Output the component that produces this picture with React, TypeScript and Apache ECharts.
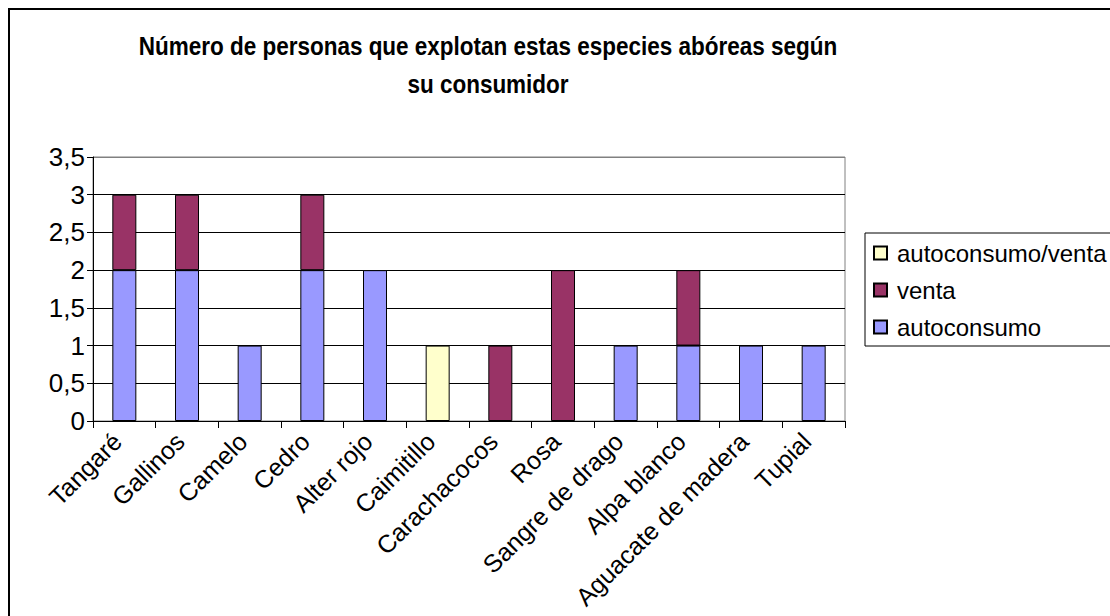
import React, { useEffect, useRef } from 'react';
import * as echarts from 'echarts';

const titleLines = ['Número de personas que explotan estas especies abóreas según', 'su consumidor'];
const categories = ['Tangaré', 'Gallinos', 'Camelo', 'Cedro', 'Alter rojo', 'Caimitillo', 'Carachacocos', 'Rosa', 'Sangre de drago', 'Alpa blanco', 'Aguacate de madera', 'Tupial'];
const autoconsumo = [2, 2, 1, 2, 2, null, null, null, 1, 1, 1, 1];
const venta = [1, 1, null, 1, null, null, 1, 2, null, 1, null, null];
const autoconsumoVenta = [null, null, null, null, null, 1, null, null, null, null, null, null];
const legendOrder = ['autoconsumo/venta', 'venta', 'autoconsumo'];
const yMin = 0;
const yMax = 3.5;
const yStep = 0.5;

const FONT = '"Liberation Sans", Arial, sans-serif';

export default function App() {
  const ref = useRef<HTMLDivElement>(null);
  useEffect(() => {
    if (!ref.current) return;
    const chart = echarts.init(ref.current, undefined, { renderer: 'svg' });
    const barStyle = (color: string) => ({ color, borderColor: '#000', borderWidth: 1 });
    chart.setOption({
      animation: false,
      backgroundColor: '#fff',
      textStyle: { fontFamily: FONT },
      graphic: [
        {
          type: 'rect',
          shape: { x: 9, y: 9, width: 1300, height: 900 },
          style: { fill: 'none', stroke: '#000', lineWidth: 2 },
          silent: true,
        },
        {
          type: 'text',
          x: 488,
          y: 27,
          scaleX: 0.9,
          style: {
            text: titleLines.join('\n'),
            fontFamily: FONT,
            fontWeight: 'bold',
            fontSize: 25,
            lineHeight: 38,
            fill: '#000',
            align: 'center',
            verticalAlign: 'top',
          },
        },
      ],
      grid: {
        left: 93,
        top: 157,
        width: 752,
        height: 264,
        show: true,
        borderColor: '#808080',
        borderWidth: 1,
        backgroundColor: 'transparent',
      },
      legend: {
        orient: 'vertical',
        left: 865,
        top: 233,
        data: legendOrder,
        icon: 'rect',
        itemWidth: 13,
        itemHeight: 13,
        itemGap: 11,
        padding: [7, 30, 6, 8],
        borderColor: '#000',
        borderWidth: 1,
        textStyle: { fontFamily: FONT, fontSize: 24, lineHeight: 26, color: '#000', padding: [0, 0, 0, 5] },
      },
      xAxis: {
        type: 'category',
        data: categories,
        boundaryGap: true,
        axisLine: { lineStyle: { color: '#000', width: 1 } },
        axisTick: { show: true, length: 7, lineStyle: { color: '#000' } },
        axisLabel: {
          interval: 0,
          rotate: 45,
          margin: 9,
          padding: [0, 10, 0, 0],
          fontSize: 25,
          fontFamily: FONT,
          color: '#000',
        },
        splitLine: { show: false },
      },
      yAxis: {
        type: 'value',
        min: yMin,
        max: yMax,
        interval: yStep,
        axisLine: { show: true, lineStyle: { color: '#000', width: 1 } },
        axisTick: { show: true, length: 6, lineStyle: { color: '#000' } },
        axisLabel: {
          margin: 8,
          fontSize: 26,
          fontFamily: FONT,
          color: '#000',
          formatter: (v: number) => String(v).replace('.', ','),
        },
        splitLine: {
          show: true,
          lineStyle: { color: ['#000', '#000', '#000', '#000', '#000', '#000', '#000', '#808080'], width: 1 },
        },
      },
      series: [
        { name: 'autoconsumo', type: 'bar', stack: 'total', data: autoconsumo, barWidth: 24, itemStyle: barStyle('#9999FF') },
        { name: 'venta', type: 'bar', stack: 'total', data: venta, barWidth: 24, itemStyle: barStyle('#993366') },
        { name: 'autoconsumo/venta', type: 'bar', stack: 'total', data: autoconsumoVenta, barWidth: 24, itemStyle: barStyle('#FFFFCC') },
      ],
    });
    return () => chart.dispose();
  }, []);
  return <div ref={ref} style={{ position: 'fixed', left: 0, top: 0, width: 1110, height: 616 }} />;
}
